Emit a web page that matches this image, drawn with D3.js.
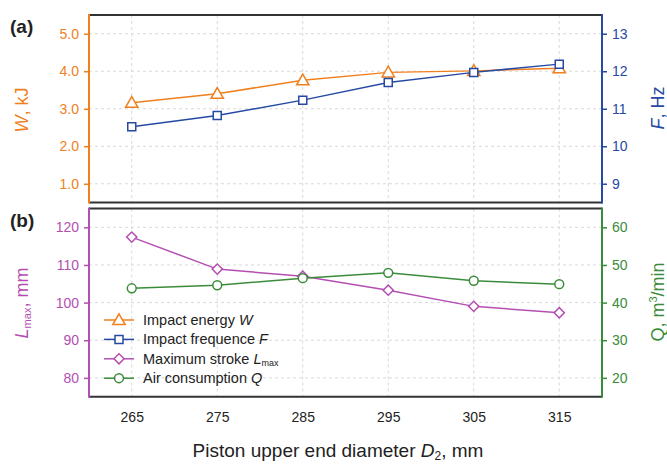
<!DOCTYPE html>
<html><head><meta charset="utf-8">
<script src="https://cdn.jsdelivr.net/npm/d3@7"></script>
<style>body{margin:0;background:#fff}svg{font-family:"Liberation Sans",Arial,sans-serif}</style>
</head><body>
<svg id="c" width="667" height="465"></svg>
<script>
const diameters = [265, 275, 285, 295, 305, 315];
const energyW = [3.16, 3.40, 3.76, 3.97, 4.01, 4.08];
const freqF = [10.52, 10.82, 11.23, 11.70, 11.97, 12.19];
const strokeL = [117.4, 108.9, 107.0, 103.3, 99.0, 97.3];
const airQ = [43.8, 44.6, 46.5, 47.9, 45.8, 44.9];
const wTicks = [1, 2, 3, 4, 5];
const fTicks = [9, 10, 11, 12, 13];
const lTicks = [80, 90, 100, 110, 120];
const qTicks = [20, 30, 40, 50, 60];

const C = {W:"#f0801e", F:"#2649a3", L:"#b44fb1", Q:"#3a8c3a", frame:"#333"};
const svg = d3.select("#c");
const L = 89, R = 602;
const x = d3.scaleLinear().domain([260, 320]).range([L, R]);
const topP = {t:15, b:202.5};
const botP = {t:208.5, b:396.7};
const yW = d3.scaleLinear().domain([0.5, 5.5]).range([topP.b, topP.t]);
const yF = d3.scaleLinear().domain([8.5, 13.5]).range([topP.b, topP.t]);
const yL = d3.scaleLinear().domain([75, 125]).range([botP.b, botP.t]);
const yQ = d3.scaleLinear().domain([15, 65]).range([botP.b, botP.t]);

function grid(p, ys, ticks) {
  const g = svg.append("g").attr("stroke", "#d9d9d9").attr("stroke-dasharray", "3,3").attr("stroke-width", 1);
  diameters.forEach(d => g.append("line").attr("x1", x(d)).attr("x2", x(d)).attr("y1", p.t).attr("y2", p.b));
  ticks.forEach(t => g.append("line").attr("x1", L).attr("x2", R).attr("y1", ys(t)).attr("y2", ys(t)));
}
grid(topP, yW, wTicks);
grid(botP, yL, lTicks);

function yAxis(scale, ticks, side, color, fmt) {
  const ax = (side === "left" ? d3.axisLeft(scale) : d3.axisRight(scale))
    .tickValues(ticks).tickSize(5).tickPadding(5).tickFormat(fmt);
  const g = svg.append("g").attr("transform", `translate(${side === "left" ? L : R},0)`).call(ax);
  g.select(".domain").remove();
  g.selectAll(".tick line").attr("stroke", color).attr("stroke-width", 1.5);
  g.selectAll(".tick text").attr("fill", color).attr("font-size", 14).attr("font-family", "Liberation Sans, Arial, sans-serif");
}
yAxis(yW, wTicks, "left", C.W, d3.format(".1f"));
yAxis(yF, fTicks, "right", C.F, d3.format("d"));
yAxis(yL, lTicks, "left", C.L, d3.format("d"));
yAxis(yQ, qTicks, "right", C.Q, d3.format("d"));

// x axis labels
const xa = svg.append("g").attr("transform", `translate(0,${botP.b})`)
  .call(d3.axisBottom(x).tickValues(diameters).tickSize(0).tickPadding(15).tickFormat(d3.format("d")));
xa.select(".domain").remove();
xa.selectAll(".tick text").attr("fill", "#222").attr("font-size", 14).attr("font-family", "Liberation Sans, Arial, sans-serif");

// frames
function frame(p, lc, rc) {
  svg.append("line").attr("x1", L).attr("x2", R).attr("y1", p.t).attr("y2", p.t).attr("stroke", C.frame).attr("stroke-width", 2);
  svg.append("line").attr("x1", L).attr("x2", R).attr("y1", p.b).attr("y2", p.b).attr("stroke", C.frame).attr("stroke-width", 2);
  svg.append("line").attr("x1", L).attr("x2", L).attr("y1", p.t - 1).attr("y2", p.b + 1).attr("stroke", lc).attr("stroke-width", 2);
  svg.append("line").attr("x1", R).attr("x2", R).attr("y1", p.t - 1).attr("y2", p.b + 1).attr("stroke", rc).attr("stroke-width", 2);
}
frame(topP, C.W, C.F);
frame(botP, C.L, C.Q);

const sym = {
  W: d3.symbol().type(d3.symbolTriangle).size(66),
  F: d3.symbol().type(d3.symbolSquare).size(64),
  L: d3.symbol().type(d3.symbolSquare).size(52),
  Q: d3.symbol().type(d3.symbolCircle).size(62)
};
const rot = {W:0, F:0, L:45, Q:0};
function series(vals, ys, key) {
  const pts = diameters.map((d, i) => [x(d), ys(vals[i])]);
  svg.append("path").attr("d", d3.line()(pts)).attr("fill", "none").attr("stroke", C[key]).attr("stroke-width", 1.5);
  svg.append("g").selectAll("path").data(pts).join("path")
    .attr("transform", p => `translate(${p[0]},${p[1] + (key === "W" ? 1 : 0)}) rotate(${rot[key]})`)
    .attr("d", sym[key]()).attr("fill", "#fff").attr("stroke", C[key]).attr("stroke-width", 1.5);
}
series(energyW, yW, "W");
series(freqF, yF, "F");
series(strokeL, yL, "L");
series(airQ, yQ, "Q");

// legend
const leg = [
  {k:"W", t:"Impact energy ", it:"W"},
  {k:"F", t:"Impact frequence ", it:"F"},
  {k:"L", t:"Maximum stroke ", it:"L", sub:"max"},
  {k:"Q", t:"Air consumption ", it:"Q"}
];
leg.forEach((e, i) => {
  const cy = 320 + i * 19.4;
  svg.append("line").attr("x1", 104).attr("x2", 134).attr("y1", cy).attr("y2", cy).attr("stroke", C[e.k]).attr("stroke-width", 1.5);
  svg.append("path").attr("transform", `translate(119,${cy + (e.k === "W" ? 1 : 0)}) rotate(${rot[e.k]})`).attr("d", sym[e.k]())
    .attr("fill", "#fff").attr("stroke", C[e.k]).attr("stroke-width", 1.5);
  const tx = svg.append("text").attr("x", 143).attr("y", cy + 5).attr("font-size", 14.5).attr("fill", "#222");
  tx.append("tspan").text(e.t);
  tx.append("tspan").attr("font-style", "italic").text(e.it);
  if (e.sub) tx.append("tspan").attr("font-size", 9).attr("dy", 2).text(e.sub);
});

// panel labels
svg.append("text").attr("x", 10).attr("y", 33).attr("font-size", 19).attr("font-weight", "bold").attr("fill", "#222").text("(a)");
svg.append("text").attr("x", 10).attr("y", 227).attr("font-size", 19).attr("font-weight", "bold").attr("fill", "#222").text("(b)");

// axis titles
function vtitle(xp, yp, color, parts) {
  const t = svg.append("text").attr("transform", `translate(${xp},${yp}) rotate(-90)`)
    .attr("text-anchor", "middle").attr("font-size", 18).attr("fill", color);
  parts.forEach(p => {
    const s = t.append("tspan").text(p.t);
    if (p.i) s.attr("font-style", "italic");
    if (p.sub) s.attr("font-size", 11).attr("dy", 3);
    if (p.sup) s.attr("font-size", 11).attr("dy", -7);
    if (p.back) s.attr("dy", p.back);
  });
}
vtitle(28, 110, C.W, [{t:"W", i:true}, {t:", kJ"}]);
vtitle(664, 108, C.F, [{t:"F", i:true}, {t:", Hz"}]);
vtitle(28, 303, C.L, [{t:"L", i:true}, {t:"max", sub:true}, {t:", mm", back:-3}]);
vtitle(664, 302, C.Q, [{t:"Q, m"}, {t:"3", sup:true}, {t:"/min", back:7}]);

const xt = svg.append("text").attr("x", 338).attr("y", 457).attr("text-anchor", "middle").attr("font-size", 19).attr("fill", "#222");
xt.append("tspan").text("Piston upper end diameter ");
xt.append("tspan").attr("font-style", "italic").text("D");
xt.append("tspan").attr("font-size", 12).attr("dy", 3).text("2");
xt.append("tspan").attr("dy", -3).text(", mm");
</script>
</body></html>
